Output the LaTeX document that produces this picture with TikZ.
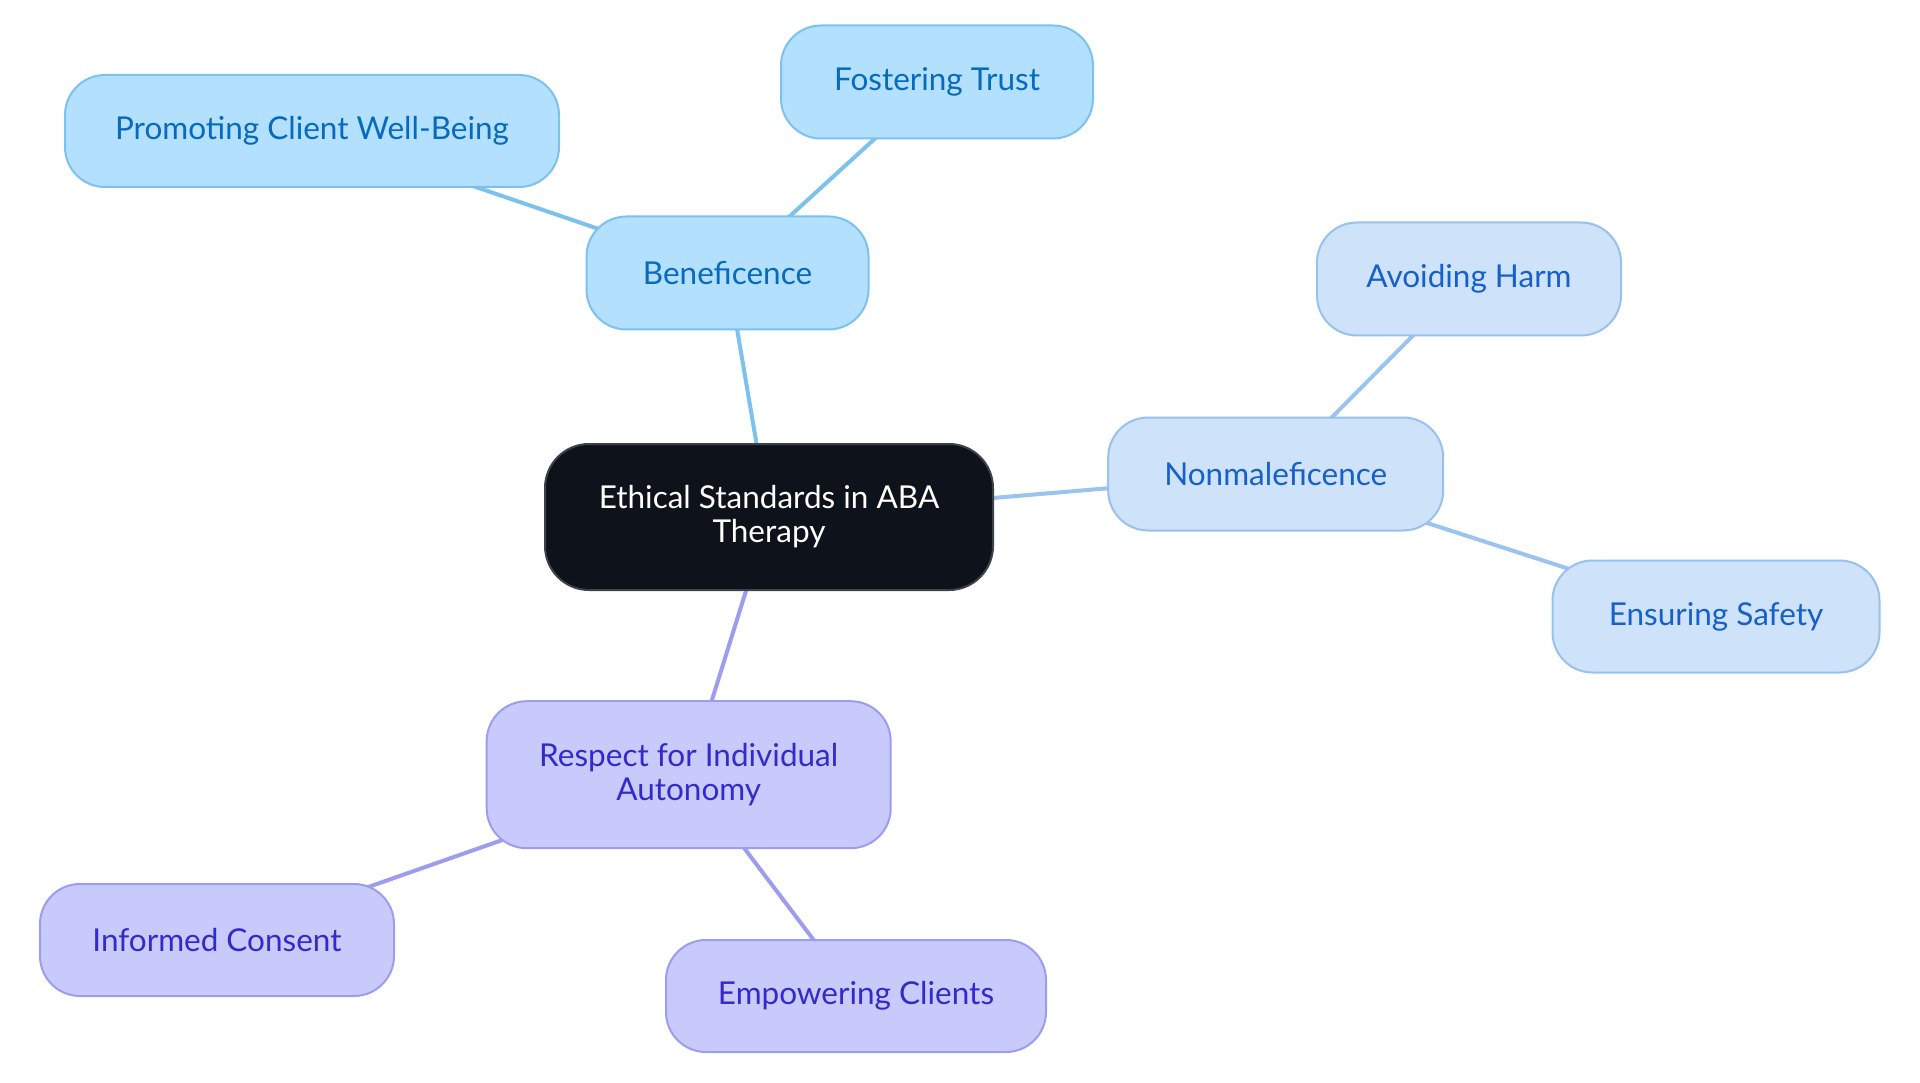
\documentclass[tikz,border=0pt]{standalone}
\usepackage{fontspec}
\setmainfont{Lato}
\usetikzlibrary{backgrounds}
\begin{document}
\begin{tikzpicture}[x=1pt,y=-1pt,
  every node/.style={font=\fontsize{31.5}{34}\selectfont, align=center, inner sep=0pt},
  pill/.style={rounded corners=40pt, line width=2pt},
  benbox/.style={pill, fill=benfill, draw=benline, text=bentext},
  nonbox/.style={pill, fill=nonfill, draw=nonline, text=nontext},
  autbox/.style={pill, fill=autfill, draw=autline, text=auttext},
  rootbox/.style={rounded corners=44pt, line width=2pt, fill=rootfill, draw=rootline, text=white},
  benedge/.style={draw=benedgec, line width=4pt},
  nonedge/.style={draw=nonedgec, line width=4pt},
  autedge/.style={draw=autedgec, line width=4pt}]
\definecolor{benfill}{RGB}{179,224,255}
\definecolor{benline}{RGB}{124,194,240}
\definecolor{bentext}{RGB}{6,106,190}
\definecolor{benedgec}{RGB}{125,193,238}
\definecolor{nonfill}{RGB}{206,226,250}
\definecolor{nonline}{RGB}{152,193,240}
\definecolor{nontext}{RGB}{22,96,204}
\definecolor{nonedgec}{RGB}{154,195,238}
\definecolor{autfill}{RGB}{200,202,252}
\definecolor{autline}{RGB}{156,156,240}
\definecolor{auttext}{RGB}{52,42,204}
\definecolor{autedgec}{RGB}{157,156,240}
\definecolor{rootfill}{RGB}{13,18,27}
\definecolor{rootline}{RGB}{60,65,74}
\useasboundingbox (0,0) rectangle (1920,1083);

\node[rootbox, minimum width=448pt, minimum height=146pt] (root) at (769,517) {Ethical Standards in ABA\\Therapy};

\node[benbox, minimum width=282pt, minimum height=113pt] (ben) at (727.5,273) {Beneficence};
\node[benbox, minimum width=494pt, minimum height=112pt] (prom) at (312,131) {Promoting Client Well-Being};
\node[benbox, minimum width=312pt, minimum height=113pt] (fost) at (937,82) {Fostering Trust};

\node[nonbox, minimum width=335pt, minimum height=113pt] (non) at (1275.7,474) {Nonmaleficence};
\node[nonbox, minimum width=304pt, minimum height=113pt] (avoid) at (1469,279) {Avoiding Harm};
\node[nonbox, minimum width=327pt, minimum height=112pt] (safe) at (1716,616.5) {Ensuring Safety};

\node[autbox, minimum width=404pt, minimum height=147pt] (resp) at (688.7,774.7) {Respect for Individual\\Autonomy};
\node[autbox, minimum width=354pt, minimum height=112pt] (inf) at (217,940) {Informed Consent};
\node[autbox, minimum width=380pt, minimum height=112pt] (emp) at (856,996) {Empowering Clients};

\begin{scope}[on background layer]
\path[benedge] (root.center) -- (ben.center);
\path[benedge] (ben.center) -- (prom.center);
\path[benedge] (ben.center) -- (fost.center);
\path[nonedge] (root.center) -- (non.center);
\path[nonedge] (non.center) -- (avoid.center);
\path[nonedge] (non.center) -- (safe.center);
\path[autedge] (root.center) -- (resp.center);
\path[autedge] (resp.center) -- (inf.center);
\path[autedge] (resp.center) -- (emp.center);
\end{scope}
\end{tikzpicture}
\end{document}
